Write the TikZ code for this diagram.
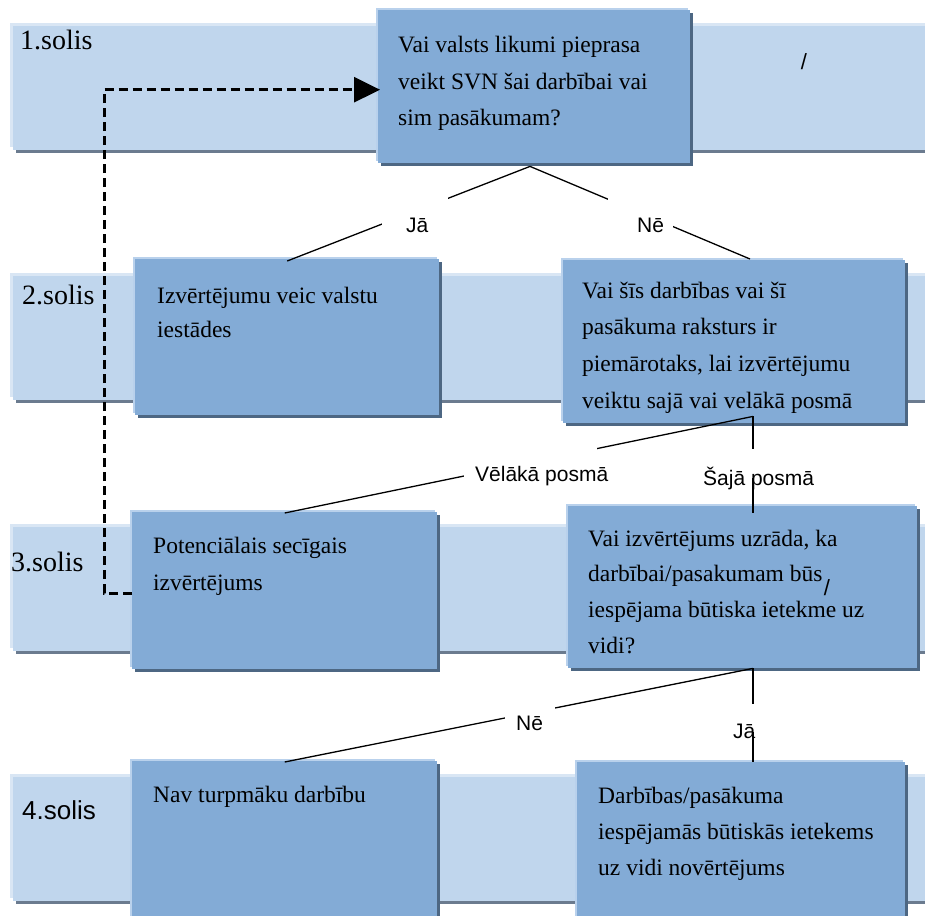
\documentclass[tikz,border=0pt]{standalone}
\usepackage{fontspec}
\setmainfont{Liberation Serif}
\newfontfamily\arialf{Liberation Sans}
\usetikzlibrary{shadows,arrows.meta,calc}
\definecolor{bandblue}{HTML}{C0D6ED}
\definecolor{bandlight}{HTML}{D9E6F4}
\definecolor{banddark}{HTML}{6B7B8F}
\definecolor{boxblue}{HTML}{83ABD6}
\definecolor{boxlight}{HTML}{B9D1EC}
\definecolor{boxdark}{HTML}{4D6783}
\begin{document}
\begin{tikzpicture}[x=1pt,y=-1pt,
  bandnode/.style={anchor=north west, inner sep=0pt, fill=bandblue,
    minimum width=925pt, minimum height=124pt,
    general shadow={shadow xshift=3pt, shadow yshift=-3pt, fill=banddark},
    general shadow={shadow xshift=-3pt, shadow yshift=3pt, fill=bandlight}},
  boxnode/.style={anchor=north west, inner sep=0pt, fill=boxblue,
    general shadow={shadow xshift=3pt, shadow yshift=-3pt, fill=boxdark},
    general shadow={shadow xshift=-2pt, shadow yshift=2pt, fill=boxlight}},
  steplbl/.style={anchor=base west, inner sep=0pt, font=\fontsize{28pt}{28pt}\selectfont},
  steplblsans/.style={anchor=base west, inner sep=0pt, font=\arialf\fontsize{26pt}{26pt}\selectfont},
  btext/.style={anchor=base west, inner sep=0pt},
  conn/.style={draw=black, line width=1.3pt},
  dashconn/.style={draw=black, line width=3pt, dash pattern=on 9pt off 5pt,
    -{Triangle[length=26pt,width=25pt]}},
  gapnode/.style={fill=white, inner sep=0pt},
  lbl/.style={anchor=base west, inner sep=0pt, font=\arialf\fontsize{21pt}{21pt}\selectfont},
  slashmark/.style={inner sep=0pt, font=\arialf\fontsize{22pt}{22pt}\selectfont}
]
\useasboundingbox (0,0) rectangle (925,915);
\clip (0,0) rectangle (925,915);

% bands
\node[bandnode] (band1) at (13,26) {};
\node[bandnode] (band2) at (13,276) {};
\node[bandnode] (band3) at (13,527) {};
\node[bandnode] (band4) at (13,777) {};

% step labels
\node[steplbl] (s1) at (20,50) {1.solis};
\node[steplbl] (s2) at (22,304) {2.solis};
\node[steplbl] (s3) at (11,571) {3.solis};
\node[steplblsans] (s4) at (22,819) {4.solis};

% boxes
\node[boxnode, minimum width=312pt, minimum height=153pt] (B1) at (378,10) {};
\node[boxnode, minimum width=304pt, minimum height=156pt] (B2L) at (135,259) {};
\node[boxnode, minimum width=342pt, minimum height=163pt] (B2R) at (563,260) {};
\node[boxnode, minimum width=305pt, minimum height=157pt] (B3L) at (132,512) {};
\node[boxnode, minimum width=349pt, minimum height=162pt] (B3R) at (568,506) {};
\node[boxnode, minimum width=305pt, minimum height=170pt] (B4L) at (132,761) {};
\node[boxnode, minimum width=328pt, minimum height=170pt] (B4R) at (577,762) {};

% dashed feedback connector
\coordinate (dx) at (104,0);
\coordinate (ds) at ($(B3L.west)+(0,2.5)$);
\coordinate (de) at ($(B1.west)+(2,3)$);
\draw[dashconn] (ds) -- (ds -| dx) -- (de -| dx) -- (de);

% apex coordinates
\coordinate (a1) at ($(B1.south west)+(152,3)$);
\coordinate (a2) at ($(B2R.south west)+(190,-7)$);
\coordinate (a3) at ($(B3R.south west)+(185,0)$);

% connectors
\draw[conn] (a1) -- ($(B2L.north)+(0,2)$);
\draw[conn] (a1) -- ($(B2R.north west)+(187,-1)$);
\draw[conn] (a2) -- ($(B3L.north)+(0,1)$);
\draw[conn] (a2) -- ($(B3R.north west)+(185,7)$);
\draw[conn] (a3) -- ($(B4L.north)+(0,1)$);
\draw[conn] (a3) -- ($(B4R.north west)+(176,0)$);

% gaps in the connectors
\node[gapnode, minimum width=66pt, minimum height=42pt] (g1) at (415,215) {};
\node[gapnode, minimum width=65pt, minimum height=42pt] (g2) at (640.5,215) {};
\node[gapnode, minimum width=133pt, minimum height=36pt] (g3) at (530.5,462) {};
\node[gapnode, minimum width=16pt, minimum height=29pt] (g4) at (753,463.5) {};
\node[gapnode, minimum width=50pt, minimum height=36pt] (g5) at (530,720) {};
\node[gapnode, minimum width=16pt, minimum height=28pt] (g6) at (753,718) {};

% labels
\node[lbl] (l1) at (406,232) {Jā};
\node[lbl] (l2) at (637,232) {Nē};
\node[lbl] (l3) at (475,481) {Vēlākā posmā};
\node[lbl] (l4) at (703,485) {Šajā posmā};
\node[lbl] (l5) at (516,730) {Nē};
\node[lbl] (l6) at (733,738) {Jā};
\draw[conn] (g4.south) -- ($(B3R.north west)+(185,7)$);
\draw[conn] (g6.south) -- ($(B4R.north west)+(176,0)$);

% box texts
\node[btext] (t1) at (398,53) {\parbox[t]{330pt}{\fontsize{23.5pt}{36.5pt}\selectfont
  Vai valsts likumi pieprasa\\veikt SVN šai darbībai vai\\sim pasākumam?}};
\node[btext] (t2) at (157,303) {\parbox[t]{330pt}{\fontsize{23.5pt}{34pt}\selectfont
  Izvērtējumu veic valstu\\iestādes}};
\node[btext] (t3) at (582,298) {\parbox[t]{360pt}{\fontsize{23.5pt}{36.7pt}\selectfont
  Vai šīs darbības vai šī\\pasākuma raksturs ir\\piemārotaks, lai izvērtējumu\\veiktu sajā vai velākā posmā}};
\node[btext] (t4) at (153,553) {\parbox[t]{330pt}{\fontsize{23.5pt}{37pt}\selectfont
  Potenciālais secīgais\\izvērtējums}};
\node[btext] (t5) at (588,546) {\parbox[t]{360pt}{\fontsize{23.5pt}{35.7pt}\selectfont
  Vai izvērtējums uzrāda, ka\\darbībai/pasakumam būs\\iespējama būtiska ietekme uz\\vidi?}};
\node[btext] (t6) at (153,802) {\parbox[t]{330pt}{\fontsize{23.5pt}{36pt}\selectfont
  Nav turpmāku darbību}};
\node[btext] (t7) at (598,803) {\parbox[t]{360pt}{\fontsize{23.5pt}{36pt}\selectfont
  Darbības/pasākuma\\iespējamās būtiskās ietekems\\uz vidi novērtējums}};

% stray marks
\node[slashmark] (m1) at (804,62) {/};
\node[slashmark] (m2) at (827,588) {/};
\end{tikzpicture}
\end{document}
